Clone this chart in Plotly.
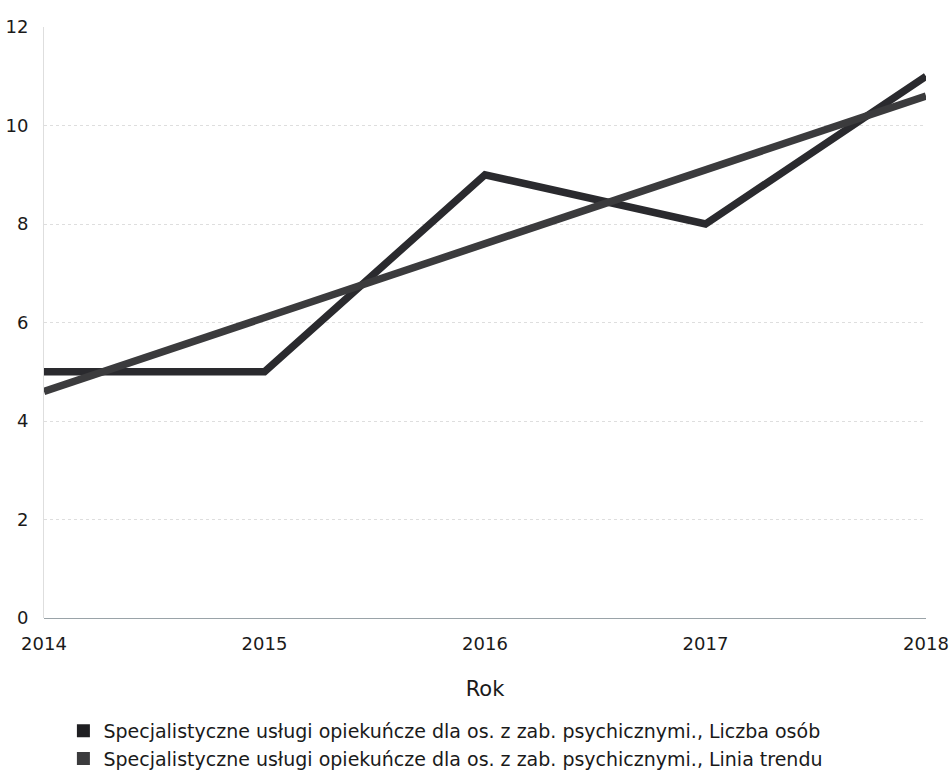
import plotly.graph_objects as go

lata = [2014, 2015, 2016, 2017, 2018]
liczba_osob = [5, 5, 9, 8, 11]
linia_trendu = [4.6, 6.1, 7.6, 9.1, 10.6]
y_ticks = [0, 2, 4, 6, 8, 10, 12]

nazwa = "Specjalistyczne usługi opiekuńcze dla os. z zab. psychicznymi."

fig = go.Figure()
fig.add_trace(go.Scatter(x=lata, y=liczba_osob, mode="lines", showlegend=False,
                         line=dict(color="#2a2a2e", width=7.5)))
fig.add_trace(go.Scatter(x=lata, y=linia_trendu, mode="lines", showlegend=False,
                         line=dict(color="#3b3b3d", width=7.5)))
# kwadraty w legendzie
fig.add_trace(go.Scatter(x=[None], y=[None], mode="markers", name=nazwa + ", Liczba osób",
                         marker=dict(symbol="square", size=13, color="#1f1f22")))
fig.add_trace(go.Scatter(x=[None], y=[None], mode="markers", name=nazwa + ", Linia trendu",
                         marker=dict(symbol="square", size=13, color="#3b3b3d")))

fig.update_layout(
    width=952, height=800,
    margin=dict(l=44, r=26, t=27, b=182),
    plot_bgcolor="white", paper_bgcolor="white",
    font=dict(family="DejaVu Sans, sans-serif", size=18, color="#1a1a1a"),
    legend=dict(orientation="v", x=0.022, xanchor="left", y=-0.159, yanchor="top",
                font=dict(size=19), tracegroupgap=0, itemwidth=30),
    xaxis=dict(range=[2014, 2018], tickvals=lata, showgrid=False, zeroline=False,
               showline=False, ticks="", ticklabelstandoff=13, automargin=False,
               title=dict(text="Rok", standoff=28, font=dict(size=21))),
    yaxis=dict(range=[0, 12], tickvals=y_ticks, showgrid=True, gridcolor="#dedede",
               griddash="dot", zeroline=True, zerolinecolor="#9aa3a8", zerolinewidth=1,
               showline=True, linecolor="#dedede", ticks="", ticklabelstandoff=11,
               automargin=False),
)

# bez marginesu strony, bez pasków przewijania i bez paska narzędzi
fig.write_html("out.html", config={"displayModeBar": False},
               post_script="document.body.style.margin='0';document.body.style.overflow='hidden';")
